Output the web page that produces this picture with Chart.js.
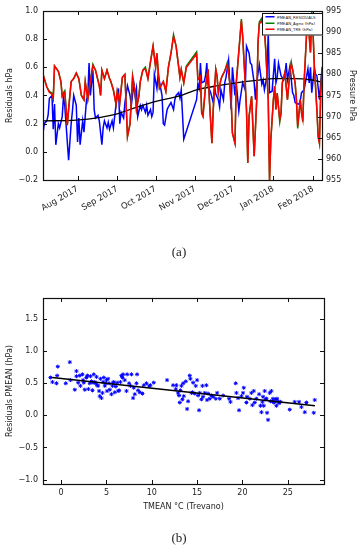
<!DOCTYPE html>
<html>
<head>
<meta charset="utf-8">
<script src="https://cdn.jsdelivr.net/npm/chart.js@4.4.1/dist/chart.umd.min.js"></script>
<style>
  html, body { margin: 0; padding: 0; background: #fff; }
  body { width: 358px; height: 550px; position: relative; overflow: hidden; font-family: 'DejaVu Sans', sans-serif; }
  #topChart { position: absolute; left: 0; top: 0; }
  #botChart { position: absolute; left: 0; top: 260px; }
  .panel { position: absolute; left: 0; width: 358px; text-align: center; font-family: 'Liberation Serif', serif; font-size: 13px; color: #222; }
  #legend {
    position: absolute; left: 262px; top: 13px; width: 118px; height: 40px;
    transform: scale(0.5); transform-origin: 0 0;
    border: 2px solid #111; background: #fff; font-size: 8px; color: #222;
    padding-top: 1px;
  }
  #legend .row { height: 12.5px; line-height: 12.5px; white-space: nowrap; }
  #legend .sw { display: inline-block; width: 18px; height: 3px; margin: 0 5px 2px 5px; vertical-align: middle; }
</style>
</head>
<body>
<canvas id="topChart" width="358" height="250"></canvas>
<div id="legend">
  <div class="row"><span class="sw" style="background:#0000ff"></span>PMEAN_RESIDUALS</div>
  <div class="row"><span class="sw" style="background:#008000"></span>PMEAN_Agno (hPa)</div>
  <div class="row"><span class="sw" style="background:#ff0000"></span>PMEAN_TRE (hPa)</div>
</div>
<div class="panel" style="top:244px">(a)</div>
<canvas id="botChart" width="358" height="255"></canvas>
<div class="panel" style="top:530px">(b)</div>
<script>
// ---------- (a) time series: day 0 = 5 Jul 2017 ----------
const monthDays = [27, 58, 88, 119, 149, 180, 211];
const monthLabels = ['Aug 2017', 'Sep 2017', 'Oct 2017', 'Nov 2017', 'Dec 2017', 'Jan 2018', 'Feb 2018'];
const residTicks = [-0.2, 0.0, 0.2, 0.4, 0.6, 0.8, 1.0];
const pressTicks = [955, 960, 965, 970, 975, 980, 985, 990, 995];

const residDays = [0, 1, 3, 4, 5, 7, 8, 9, 10, 12, 13, 15, 16, 17, 18, 20, 22, 23, 24, 26,
  27, 28, 29, 31, 32, 34, 35, 36, 37, 39, 40, 41, 43, 44, 46, 47, 48, 50, 51, 52,
  54, 55, 56, 57, 59, 60, 61, 63, 64, 66, 68, 69, 71, 72, 73, 74, 76, 77, 78, 80,
  81, 82, 84, 85, 86, 87, 89, 90, 91, 93, 94, 95, 97, 98, 100, 102, 103, 104, 106,
  107, 108, 110, 120, 121, 122, 123, 124, 126, 127, 128, 129, 131, 133, 134, 135, 137, 138, 139, 141,
  142, 143, 145, 146, 147, 148, 150, 151, 153, 154, 156, 158, 159, 161, 162, 163, 165, 166, 167, 169,
  171, 172, 173, 175, 176, 177, 179, 181, 182, 183, 184, 186, 188, 189, 190, 191, 193, 195, 196, 197,
  199, 200, 201, 202, 204, 205, 207, 208, 209, 210, 212, 213, 214, 216, 217, 218];
const residValues = [0.13, 0.20, 0.22, 0.26, 0.38, 0.40, 0.16, 0.34, 0.05, 0.20, 0.17, 0.25, 0.39, 0.33, 0.20, -0.06, 0.20, 0.29, 0.40, 0.33,
  0.07, 0.24, 0.05, 0.22, 0.14, 0.37, 0.40, 0.63, 0.40, 0.58, 0.30, 0.24, 0.26, 0.22, 0.05, 0.17, 0.22, 0.17, 0.21, 0.16,
  0.22, 0.17, 0.25, 0.33, 0.45, 0.20, 0.28, 0.24, 0.35, 0.47, 0.40, 0.33, 0.48, 0.40, 0.45, 0.25, 0.33, 0.30, 0.33, 0.28,
  0.33, 0.26, 0.30, 0.25, 0.28, 0.55, 0.45, 0.55, 0.50, 0.40, 0.20, 0.19, 0.30, 0.32, 0.35, 0.30, 0.37, 0.40, 0.42,
  0.38, 0.44, 0.09, 0.37, 0.48, 0.45, 0.63, 0.49, 0.50, 0.54, 0.63, 0.47, 0.42, 0.35, 0.47, 0.41, 0.37, 0.32, 0.44, 0.37,
  0.49, 0.53, 0.65, 0.47, 0.30, 0.60, 0.40, 0.49, 0.29, 0.37, 0.49, 0.44, 0.75, 0.70, 0.63, 0.62, 0.49, 0.37, 0.49, 0.62,
  0.48, 0.51, 0.44, 0.54, 0.85, 0.42, 0.43, 0.66, 0.49, 0.53, 0.63, 0.54, 0.51, 0.54, 0.63, 0.51, 0.61, 0.42, 0.40, 0.35,
  0.34, 0.34, 0.36, 0.42, 0.44, 0.49, 0.59, 0.49, 0.60, 0.42, 0.59, 0.55, 0.54, 0.37, 0.49, 0.59];

const pressDays = [0, 3, 5, 7, 8, 9, 12, 14, 15, 17, 19, 20, 22, 24, 26, 28, 30, 32, 33, 35,
  37, 39, 41, 44, 45, 46, 48, 50, 52, 53, 55, 57, 58, 60, 62, 64, 66, 68, 70, 72,
  73, 75, 76, 78, 80, 82, 84, 86, 88, 89, 91, 94, 96, 98, 100, 102, 104, 107,
  108, 110, 112, 120, 121, 123, 124, 125, 127, 129, 130, 132, 133, 135, 136, 137, 139, 140, 142, 144,
  145, 146, 147, 148, 150, 151, 154, 155, 156, 158, 159, 160, 161, 163, 165, 167, 168, 169, 171, 172,
  173, 174, 176, 177, 178, 180, 181, 182, 183, 185, 186, 187, 189, 190, 191, 193, 194, 195, 197, 198,
  199, 201, 202, 203, 204, 206, 207, 208, 209, 210, 211, 212, 214, 215, 216, 217, 218];
const treValues = [980.0, 977.0, 975.7, 975.3, 974.3, 982.0, 980.7, 978.3, 974.7, 975.7, 968.0, 971.7, 978.3, 979.0, 980.3, 979.0, 975.0, 974.0, 978.3, 974.0,
  978.3, 982.0, 981.0, 977.3, 975.0, 981.0, 979.0, 981.0, 979.0, 978.3, 976.3, 973.0, 976.0, 973.3, 979.3, 980.0, 965.3, 968.3, 979.3, 975.7,
  971.7, 975.0, 978.3, 981.0, 981.3, 979.0, 983.0, 986.7, 981.7, 985.0, 976.7, 978.3, 976.0, 981.7, 985.0, 989.0, 986.7, 979.3,
  981.2, 978.0, 981.6, 984.8, 978.8, 979.6, 970.9, 970.1, 977.2, 981.2, 974.0, 963.7, 971.7, 981.2, 979.6, 975.6, 978.8, 979.6, 980.8, 982.4,
  980.4, 978.0, 974.0, 966.1, 963.7, 978.0, 989.1, 992.7, 989.1, 978.0, 971.7, 959.0, 970.1, 974.8, 960.6, 974.0, 987.5, 991.9, 992.7, 991.5,
  990.7, 986.0, 974.0, 955.0, 964.5, 974.0, 977.2, 971.7, 975.6, 969.3, 970.9, 978.0, 980.4, 977.2, 974.0, 980.8, 982.4, 981.2, 978.0, 974.0,
  967.7, 974.0, 970.9, 969.3, 978.0, 989.9, 992.3, 989.1, 985.2, 993.9, 989.9, 982.0, 971.7, 965.3, 963.7, 975.6, 981.2];
// Agno mostly hidden under TRE; it only shows at a few peaks and dips
const agnoValues = [980.0, 977.0, 976.0, 975.6, 974.3, 982.0, 980.7, 978.3, 975.0, 976.1, 968.0, 971.7, 978.3, 979.0, 980.3, 979.0, 975.0, 974.0, 978.3, 974.0,
  978.3, 982.4, 981.0, 977.3, 975.0, 981.0, 979.0, 981.0, 979.0, 978.3, 976.3, 973.0, 976.0, 973.3, 979.3, 980.0, 965.3, 968.3, 979.7, 975.7,
  971.7, 975.0, 978.3, 981.0, 981.7, 979.0, 983.0, 986.7, 981.7, 985.0, 976.7, 978.3, 976.0, 981.7, 985.0, 989.4, 986.7, 979.3,
  981.2, 978.0, 982.0, 985.3, 978.8, 979.6, 970.9, 970.1, 977.2, 981.2, 974.0, 963.7, 971.7, 981.2, 979.6, 975.6, 978.8, 979.6, 980.8, 982.8,
  980.4, 978.0, 974.0, 966.1, 963.7, 978.0, 989.1, 993.1, 989.1, 978.0, 971.7, 959.0, 970.1, 974.8, 960.6, 974.0, 987.5, 992.4, 993.3, 992.0,
  990.7, 986.0, 974.0, 955.0, 964.5, 974.0, 977.2, 971.7, 975.6, 968.8, 970.9, 978.0, 980.4, 977.2, 974.0, 980.8, 982.9, 981.2, 978.0, 974.0,
  967.2, 974.0, 970.9, 968.8, 978.0, 989.9, 992.3, 989.1, 985.2, 995.0, 989.9, 982.0, 971.7, 965.3, 963.7, 975.6, 981.8];

const trendDays = [0, 26, 45, 58, 71, 89, 106, 120, 137, 151, 165, 181, 197, 210, 218];
const trendValues = [0.22, 0.225, 0.245, 0.27, 0.31, 0.36, 0.395, 0.44, 0.47, 0.49, 0.505, 0.52, 0.52, 0.51, 0.495];

// ---------- (b) scatter ----------
const tempTicks = [0, 5, 10, 15, 20, 25];
const scatterTicks = [-1.0, -0.5, 0.0, 0.5, 1.0, 1.5];
const scatterTemp = [-1.18, -0.96, -0.51, -0.37, -0.44, 0.96, 0.51, 1.03, 1.51, 1.69, 1.69, 1.88, 2.06, 2.13, 2.35, 2.43, 2.50, 2.61, 2.79, 2.90,
  3.01, 3.16, 3.24, 3.35, 3.46, 3.53, 3.60, 3.71, 3.82, 3.90, 3.97, 4.08, 4.19, 4.26, 4.34, 4.45, 4.56, 4.63, 4.71, 4.82,
  4.93, 5.00, 5.07, 5.18, 5.29, 5.37, 5.55, 5.66, 5.74, 5.81, 5.92, 6.03, 6.18, 6.29, 6.40, 6.54, 6.65, 6.76, 6.84, 7.02,
  7.21, 7.28, 7.50, 7.65, 7.76, 7.94, 8.01, 8.13, 8.31, 8.38, 8.49, 8.68, 8.97, 9.12, 9.41, 9.71, 9.85, 10.22,
  11.69, 12.35, 12.65, 12.72, 12.90, 13.01, 13.09, 13.16, 13.27, 13.38, 13.46, 13.53, 13.75, 13.90, 14.01, 14.19, 14.26, 14.38, 14.49, 14.56,
  14.74, 14.85, 15.00, 15.11, 15.22, 15.29, 15.48, 15.59, 15.66, 15.85, 16.03, 16.10, 16.21, 16.40, 16.58, 16.76, 17.06, 17.21, 17.50, 17.87,
  18.53, 18.68, 19.26, 19.34, 19.52, 19.63, 19.89, 20.07, 20.15, 20.44, 20.51, 20.81, 20.99, 21.10, 21.25, 21.36, 21.54, 21.84, 21.99, 22.10,
  22.21, 22.28, 22.35, 22.46, 22.57, 22.65, 22.72, 22.83, 23.01, 23.09, 23.20, 23.31, 23.38, 23.46, 23.57, 23.68, 23.75, 23.82, 23.93, 24.04,
  24.19, 25.22, 25.77, 26.25, 26.51, 26.88, 27.06, 27.87, 27.98];
const scatterResid = [0.59, 0.52, 0.50, 0.76, 0.62, 0.83, 0.50, 0.55, 0.40, 0.69, 0.61, 0.51, 0.62, 0.46, 0.64, 0.55, 0.51, 0.40, 0.59, 0.62,
  0.41, 0.50, 0.61, 0.53, 0.39, 0.51, 0.64, 0.52, 0.50, 0.60, 0.47, 0.46, 0.38, 0.30, 0.57, 0.27, 0.35, 0.52, 0.59, 0.46,
  0.50, 0.55, 0.38, 0.57, 0.50, 0.40, 0.33, 0.46, 0.51, 0.52, 0.36, 0.45, 0.51, 0.38, 0.39, 0.52, 0.62, 0.59, 0.64, 0.55,
  0.38, 0.64, 0.50, 0.46, 0.64, 0.27, 0.43, 0.33, 0.50, 0.64, 0.39, 0.36, 0.34, 0.47, 0.50, 0.46, 0.47, 0.51,
  0.55, 0.47, 0.41, 0.47, 0.35, 0.31, 0.20, 0.39, 0.46, 0.25, 0.50, 0.30, 0.53, 0.10, 0.22, 0.62, 0.57, 0.35, 0.36, 0.51,
  0.34, 0.46, 0.55, 0.31, 0.08, 0.35, 0.25, 0.46, 0.29, 0.35, 0.47, 0.24, 0.34, 0.26, 0.31, 0.29, 0.26, 0.35, 0.26, 0.31,
  0.26, 0.21, 0.50, 0.35, 0.27, 0.08, 0.30, 0.35, 0.43, 0.20, 0.29, 0.26, 0.35, 0.16, 0.38, 0.20, 0.26, 0.33, 0.15, 0.05,
  0.21, 0.29, 0.15, 0.38, 0.25, 0.26, 0.04, -0.07, 0.35, 0.22, 0.38, 0.22, 0.26, 0.20, 0.21, 0.25, 0.15, 0.26, 0.22, 0.19,
  0.21, 0.09, 0.21, 0.21, 0.13, 0.05, 0.20, 0.04, 0.24];
const fitTemp = [-1.0, 28.0];
const fitResid = [0.59, 0.15];

// ---------------------------------------------------------
Chart.defaults.font.family = "'DejaVu Sans', sans-serif";
Chart.defaults.font.size = 8;
Chart.defaults.color = '#222';

const toXY = (xs, ys) => xs.map((x, i) => ({ x: x, y: ys[i] }));
const fmt1 = v => (v < 0 ? '\u2212' + Math.abs(v).toFixed(1) : v.toFixed(1));
const fixedTicks = list => scale => { scale.ticks = list.map(v => ({ value: v })); };

// frame round the plot and matplotlib-style inward ticks
const frameTicks = {
  id: 'frameTicks',
  afterDraw(chart, args, opts) {
    const { ctx, chartArea: a } = chart;
    ctx.save();
    ctx.strokeStyle = '#111';
    ctx.lineWidth = 1;
    const len = 4;
    Object.values(chart.scales).forEach(s => {
      s.ticks.forEach(t => {
        const p = Math.round(s.getPixelForValue(t.value)) + 0.5;
        ctx.beginPath();
        if (s.isHorizontal()) {
          ctx.moveTo(p, a.bottom); ctx.lineTo(p, a.bottom - len);
          ctx.moveTo(p, a.top); ctx.lineTo(p, a.top + len);
        } else {
          if (s.position === 'left' || opts.mirrorY) { ctx.moveTo(a.left, p); ctx.lineTo(a.left + len, p); }
          if (s.position === 'right' || opts.mirrorY) { ctx.moveTo(a.right, p); ctx.lineTo(a.right - len, p); }
        }
        ctx.stroke();
      });
    });
    ctx.lineWidth = 1.2;
    ctx.strokeRect(Math.round(a.left) + 0.5, Math.round(a.top) + 0.5, Math.round(a.right - a.left), Math.round(a.bottom - a.top));
    ctx.restore();
  }
};

const plainAxis = { grid: { display: false, drawTicks: false, tickLength: 0 }, border: { display: false } };

new Chart(document.getElementById('topChart'), {
  type: 'line',
  data: {
    datasets: [
      { label: 'PMEAN_TRE (hPa)', data: toXY(pressDays, treValues), yAxisID: 'y1', borderColor: '#ff0000', borderWidth: 1.5, pointRadius: 0, tension: 0, order: 1 },
      { label: 'PMEAN_Agno (hPa)', data: toXY(pressDays, agnoValues), yAxisID: 'y1', borderColor: '#008000', borderWidth: 1.5, pointRadius: 0, tension: 0, order: 2 },
      { label: 'trend', data: toXY(trendDays, trendValues), yAxisID: 'y', borderColor: '#000000', borderWidth: 1.3, pointRadius: 0, cubicInterpolationMode: 'monotone', order: 3 },
      { label: 'PMEAN_RESIDUALS', data: toXY(residDays, residValues), yAxisID: 'y', borderColor: '#0000ff', borderWidth: 1.5, pointRadius: 0, tension: 0, order: 4 }
    ]
  },
  options: {
    responsive: false,
    animation: false,
    layout: { padding: { top: 11, left: 0, right: 0, bottom: 0 } },
    plugins: { legend: { display: false }, tooltip: { enabled: false }, frameTicks: { mirrorY: false } },
    scales: {
      x: {
        ...plainAxis, type: 'linear', min: 0, max: 218,
        afterBuildTicks: fixedTicks(monthDays),
        afterFit: s => { s.height = 70; },
        ticks: { autoSkip: false, minRotation: 30, maxRotation: 30, padding: 4, font: { size: 8.5 },
          callback: (v, i) => monthLabels[i] }
      },
      y: {
        ...plainAxis, position: 'left', min: -0.2, max: 1.0,
        afterBuildTicks: fixedTicks(residTicks),
        afterFit: s => { s.width = 43; },
        ticks: { padding: 5, callback: v => fmt1(v) },
        title: { display: true, text: 'Residuals hPa', padding: { top: 5, bottom: 0 } }
      },
      y1: {
        ...plainAxis, position: 'right', min: 955, max: 995,
        afterBuildTicks: fixedTicks(pressTicks),
        afterFit: s => { s.width = 36; },
        ticks: { padding: 4, callback: v => String(v) },
        title: { display: true, text: 'Pressure hPa', padding: { top: 1, bottom: 0 } }
      }
    }
  },
  plugins: [frameTicks]
});

new Chart(document.getElementById('botChart'), {
  type: 'scatter',
  data: {
    datasets: [
      { label: 'fit', data: toXY(fitTemp, fitResid), showLine: true, borderColor: '#000000', borderWidth: 1.5, pointRadius: 0, order: 1 },
      { label: 'residuals', data: toXY(scatterTemp, scatterResid), pointStyle: 'star', pointRadius: 2, borderWidth: 1, borderColor: '#0000ff', backgroundColor: '#0000ff', order: 2 }
    ]
  },
  options: {
    responsive: false,
    animation: false,
    layout: { padding: { top: 38, left: 0, right: 34, bottom: 0 } },
    plugins: { legend: { display: false }, tooltip: { enabled: false }, frameTicks: { mirrorY: true } },
    scales: {
      x: {
        ...plainAxis, type: 'linear', min: -2, max: 29,
        afterBuildTicks: fixedTicks(tempTicks),
        afterFit: s => { s.height = 31; },
        ticks: { padding: 4, maxRotation: 0, callback: v => String(v) },
        title: { display: true, text: 'TMEAN °C (Trevano)', padding: { top: 1, bottom: 3 } }
      },
      y: {
        ...plainAxis, position: 'left', min: -1.07, max: 1.83,
        afterBuildTicks: fixedTicks(scatterTicks),
        afterFit: s => { s.width = 43; },
        ticks: { padding: 5, callback: v => fmt1(v) },
        title: { display: true, text: 'Residuals PMEAN (hPa)', padding: { top: 5, bottom: 0 } }
      }
    }
  },
  plugins: [frameTicks]
});
</script>
</body>
</html>
